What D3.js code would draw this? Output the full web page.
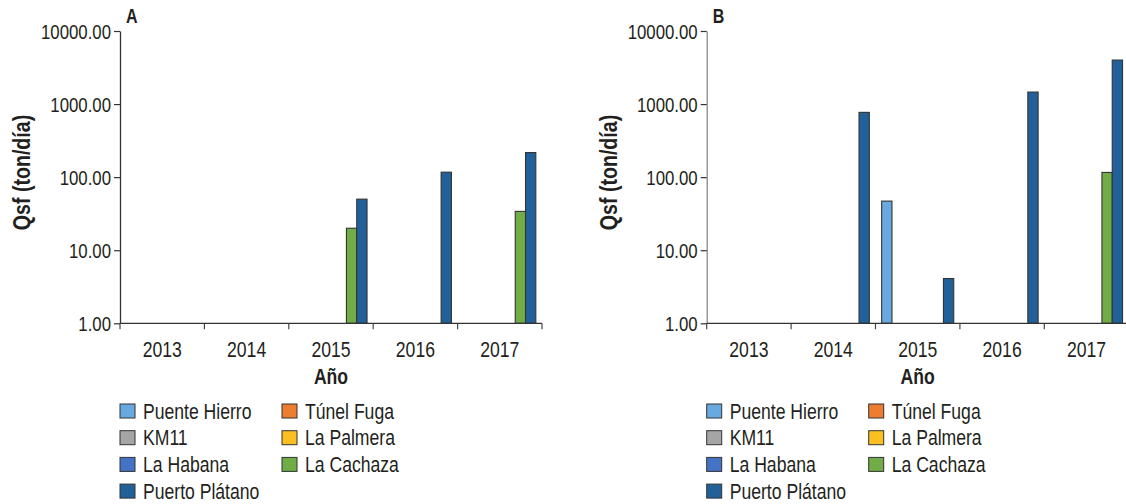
<!DOCTYPE html>
<html>
<head>
<meta charset="utf-8">
<script src="https://cdn.jsdelivr.net/npm/d3@7"></script>
<style>
  html, body { margin: 0; padding: 0; background: #fff; }
  svg { display: block; }
  text { font-family: "Liberation Sans", Arial, sans-serif; fill: #231f20; }
  .bold { font-weight: bold; }
</style>
</head>
<body>
<div id="chart"></div>
<script>
// Years on the x axis
const years = ["2013", "2014", "2015", "2016", "2017"];

// Series, in the order the bars sit inside each year
const seriesNames = ["Puente Hierro", "Túnel Fuga", "KM11", "La Palmera", "La Habana", "La Cachaza", "Puerto Plátano"];
const seriesColors = ["#68a9df", "#ed7d31", "#a5a5a5", "#fbbf22", "#4472c4", "#70ad47", "#22609a"];

// Legend is laid out in two columns
const legendCol1 = ["Puente Hierro", "KM11", "La Habana", "Puerto Plátano"];
const legendCol2 = ["Túnel Fuga", "La Palmera", "La Cachaza"];

// Qsf (ton/día), one array per series, one value per year (null = no bar)
const panelA = {
  "Puente Hierro":  [null, null, null, null, null],
  "Túnel Fuga":     [null, null, null, null, null],
  "KM11":           [null, null, null, null, null],
  "La Palmera":     [null, null, null, null, null],
  "La Habana":      [null, null, null, null, null],
  "La Cachaza":     [null, null, 20, null, 34],
  "Puerto Plátano": [null, null, 50, 117, 217]
};
const panelB = {
  "Puente Hierro":  [null, null, 47, null, null],
  "Túnel Fuga":     [null, null, null, null, null],
  "KM11":           [null, null, null, null, null],
  "La Palmera":     [null, null, null, null, null],
  "La Habana":      [null, null, null, null, null],
  "La Cachaza":     [null, null, null, null, 116],
  "Puerto Plátano": [null, 770, 4.1, 1460, 4000]
};

const yTicks = [1, 10, 100, 1000, 10000];

const W = 1126, H = 504;
const NARROW = 0.8; // squeeze Liberation Sans to a condensed look

const svg = d3.select("#chart").append("svg")
  .attr("width", W)
  .attr("height", H);

const color = d3.scaleOrdinal().domain(seriesNames).range(seriesColors);

// text placed at (x, y) and squeezed horizontally
function narrowText(parent, x, y, str, size, anchor, rotate) {
  return parent.append("text")
    .attr("transform", "translate(" + x + "," + y + ")" + (rotate ? " rotate(" + rotate + ")" : "") + " scale(" + NARROW + ",1)")
    .attr("text-anchor", anchor || "start")
    .style("font-size", size + "px")
    .text(str);
}

function panel(opts) {
  const g = svg.append("g");
  const top = 31, bottom = 323.3;

  const x0 = d3.scaleBand()
    .domain(years)
    .range([opts.left, opts.left + 422])
    .padding(0);

  const x1 = d3.scaleBand()
    .domain(seriesNames)
    .range([0, x0.bandwidth()])
    .paddingInner(0)
    .paddingOuter(0.6);

  const y = d3.scaleLog()
    .domain([1, 10000])
    .range([bottom, top]);

  // bars
  const rows = [];
  seriesNames.forEach(s => {
    opts.data[s].forEach((v, i) => {
      if (v != null) rows.push({series: s, year: years[i], value: v});
    });
  });

  g.selectAll(".bar")
    .data(rows)
    .enter().append("rect")
    .attr("class", "bar")
    .attr("x", d => x0(d.year) + x1(d.series))
    .attr("y", d => y(d.value))
    .attr("width", x1.bandwidth())
    .attr("height", d => y(1) - y(d.value))
    .attr("fill", d => color(d.series))
    .attr("stroke", "#333")
    .attr("stroke-width", 1.1);

  // y axis (labels drawn separately so they can be narrowed)
  const yAxis = g.append("g")
    .attr("transform", "translate(" + opts.left + ",0)")
    .call(d3.axisLeft(y).tickValues(yTicks).tickFormat("").tickSize(6).tickSizeOuter(0));
  yAxis.select(".domain").attr("stroke", opts.yAxisColor).attr("stroke-width", 1.3);
  yAxis.selectAll(".tick line").attr("stroke", "#333").attr("stroke-width", 1.2);
  yTicks.forEach(t => {
    narrowText(g, opts.left - 9, y(t) + 7.5, d3.format(".2f")(t), 21, "end");
  });

  // x axis: ticks sit on the category boundaries
  const bounds = years.map(yr => x0(yr)).concat([x0.range()[1]]);
  const xAxis = g.append("g");
  xAxis.append("line")
    .attr("x1", x0.range()[0]).attr("x2", x0.range()[1])
    .attr("y1", bottom).attr("y2", bottom)
    .attr("stroke", "#333").attr("stroke-width", 1.3);
  xAxis.selectAll(".xtick")
    .data(bounds)
    .enter().append("line")
    .attr("x1", d => d).attr("x2", d => d)
    .attr("y1", bottom).attr("y2", bottom + 6)
    .attr("stroke", "#444").attr("stroke-width", 1.2);
  years.forEach(yr => {
    narrowText(xAxis, x0(yr) + x0.bandwidth() / 2, 356.5, yr, 22, "middle");
  });

  // axis titles
  narrowText(g, opts.left + 211, 384, "Año", 22, "middle").attr("class", "bold");
  narrowText(g, opts.left - 90, 172.5, "Qsf (ton/día)", 24.5, "middle", -90).attr("class", "bold");

  // panel letter
  narrowText(g, opts.left + 6, 23, opts.label, 20).attr("class", "bold");

  // legend
  const legend = g.append("g");
  [legendCol1, legendCol2].forEach((col, c) => {
    col.forEach((name, r) => {
      const lx = opts.left + c * 162;
      const ly = 411 + r * 26.7;
      legend.append("rect")
        .attr("x", lx)
        .attr("y", ly - 7)
        .attr("width", 15)
        .attr("height", 14)
        .attr("fill", color(name))
        .attr("stroke", "#333")
        .attr("stroke-width", 1);
      narrowText(legend, lx + 23, ly + 7.7, name, 22);
    });
  });
}

panel({left: 120, data: panelA, label: "A", yAxisColor: "#333"});
panel({left: 706.7, data: panelB, label: "B", yAxisColor: "#888"});
</script>
</body>
</html>
